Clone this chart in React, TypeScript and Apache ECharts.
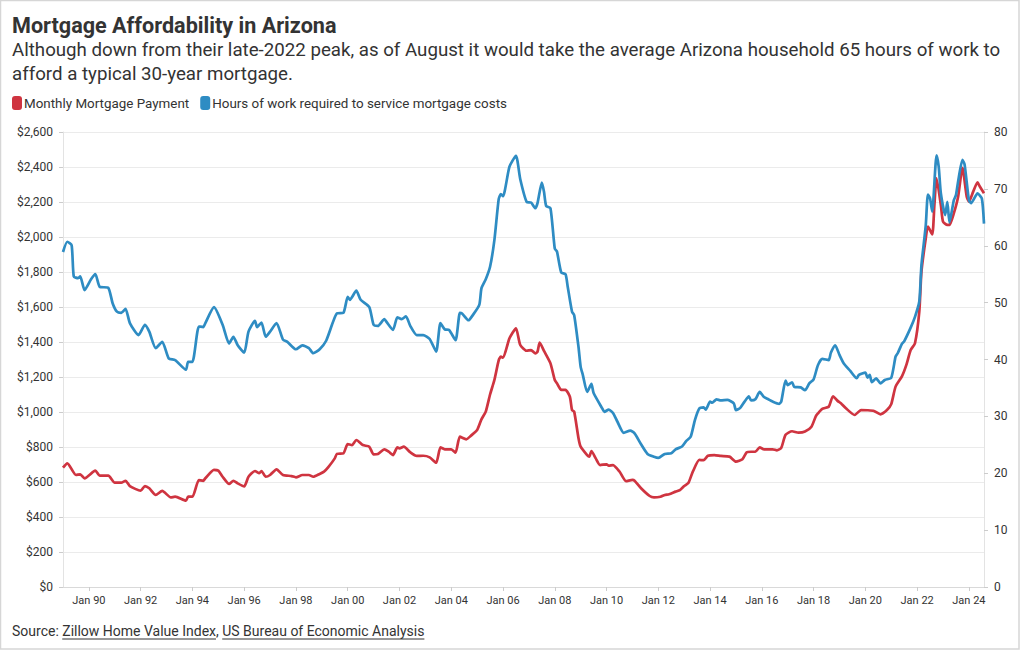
import React, { useEffect, useRef } from "react";
import * as echarts from "echarts";

// Monthly Mortgage Payment (USD)
const paymentDates = [
  "1989-01","1989-03","1989-07","1989-09","1989-11","1990-04","1990-06","1990-10","1991-01","1991-04",
  "1991-06","1991-08","1992-01","1992-03","1992-05","1992-08","1992-11","1993-03","1993-05","1993-10",
  "1993-11","1994-01","1994-04","1994-06","1994-07","1994-11","1995-01","1995-03","1995-06","1995-08",
  "1995-10","1996-01","1996-03","1996-06","1996-08","1996-09","1996-11","1997-01","1997-04","1997-07",
  "1997-11","1998-01","1998-04","1998-07","1998-09","1998-12","1999-02","1999-04","1999-07","1999-08",
  "1999-11","2000-01","2000-03","2000-05","2000-08","2000-11","2001-01","2001-03","2001-06","2001-08",
  "2001-10","2001-12","2002-01","2002-03","2002-06","2002-09","2002-12","2003-03","2003-06","2003-08",
  "2003-10","2004-01","2004-03","2004-05","2004-08","2004-10","2005-01","2005-03","2005-05","2005-07",
  "2005-09","2005-11","2005-12","2006-01","2006-04","2006-07","2006-09","2006-12","2007-02","2007-04",
  "2007-05","2007-06","2007-08","2007-11","2008-01","2008-02","2008-04","2008-06","2008-08","2008-09",
  "2008-10","2008-12","2009-01","2009-04","2009-05","2009-06","2009-08","2009-10","2010-01","2010-02",
  "2010-04","2010-07","2010-10","2011-01","2011-02","2011-05","2011-09","2011-11","2012-02","2012-04",
  "2012-06","2012-09","2012-11","2013-01","2013-03","2013-05","2013-08","2013-10","2013-12","2014-03",
  "2014-06","2014-10","2015-01","2015-04","2015-06","2015-08","2015-10","2015-12","2016-02","2016-06",
  "2016-08","2016-10","2016-12","2017-03","2017-06","2017-09","2017-12","2018-02","2018-03","2018-05",
  "2018-08","2018-10","2018-12","2019-02","2019-04","2019-08","2019-11","2020-02","2020-05","2020-08",
  "2020-11","2021-01","2021-03","2021-06","2021-08","2021-10","2021-12","2022-02","2022-03","2022-05",
  "2022-06","2022-08","2022-09","2022-10","2022-12","2023-01","2023-03","2023-04","2023-06","2023-08",
  "2023-10","2023-12","2024-01","2024-03","2024-05","2024-06","2024-08"
];
const paymentValues = [
  682,707,640,644,621,665,636,636,596,596,
  607,577,550,577,564,526,549,512,516,493,
  516,516,611,607,621,669,665,630,589,607,
  592,575,630,663,650,663,630,640,672,640,
  634,627,640,640,630,646,659,685,735,761,
  764,817,811,840,811,802,758,760,787,773,
  754,798,792,802,770,749,750,741,710,798,
  787,787,768,859,844,863,897,958,1002,1100,
  1183,1295,1316,1310,1421,1478,1383,1350,1354,1335,
  1345,1396,1349,1278,1183,1164,1126,1126,1087,1011,
  1002,850,802,754,745,777,735,697,701,693,
  697,660,605,612,607,564,520,512,516,526,
  530,545,554,577,596,659,726,725,750,754,
  749,745,716,730,770,773,773,798,787,787,
  781,795,870,890,882,888,916,975,992,1018,
  1030,1090,1065,1046,1021,983,1011,1010,1006,987,
  1011,1045,1145,1205,1269,1354,1393,1573,1802,1992,
  2059,2015,2183,2335,2183,2088,2069,2069,2135,2230,
  2395,2230,2202,2259,2312,2290,2250
];

// Hours of work required to service mortgage costs
const hoursDates = [
  "1989-01","1989-03","1989-05","1989-06","1989-08","1989-09","1989-11","1990-02","1990-04","1990-06",
  "1990-10","1990-12","1991-02","1991-04","1991-06","1991-08","1991-12","1992-03","1992-05","1992-08",
  "1992-11","1993-02","1993-05","1993-10","1993-11","1994-01","1994-04","1994-06","1994-07","1994-11",
  "1995-03","1995-06","1995-08","1995-10","1996-01","1996-03","1996-06","1996-07","1996-09","1996-11",
  "1997-01","1997-04","1997-07","1997-09","1998-01","1998-04","1998-07","1998-09","1998-12","1999-03",
  "1999-06","1999-08","1999-11","2000-01","2000-02","2000-05","2000-07","2000-11","2001-01","2001-03",
  "2001-06","2001-07","2001-10","2001-12","2002-02","2002-04","2002-06","2002-09","2002-12","2003-03",
  "2003-06","2003-08","2003-10","2003-12","2004-03","2004-05","2004-06","2004-09","2004-11","2005-02",
  "2005-03","2005-05","2005-07","2005-09","2005-11","2005-12","2006-01","2006-04","2006-07","2006-09",
  "2006-12","2007-02","2007-04","2007-05","2007-07","2007-08","2007-09","2007-11","2008-01","2008-02",
  "2008-04","2008-06","2008-07","2008-09","2008-10","2008-12","2009-01","2009-02","2009-04","2009-06",
  "2009-07","2009-11","2009-12","2010-02","2010-04","2010-06","2010-09","2010-12","2011-02","2011-05",
  "2011-08","2011-11","2012-01","2012-04","2012-07","2012-09","2012-12","2013-02","2013-04","2013-06",
  "2013-08","2013-10","2013-11","2014-01","2014-02","2014-04","2014-06","2014-09","2014-12","2015-01",
  "2015-03","2015-05","2015-07","2015-08","2015-10","2015-12","2016-02","2016-04","2016-06","2016-09",
  "2016-10","2016-12","2017-01","2017-03","2017-04","2017-07","2017-09","2017-11","2018-01","2018-03",
  "2018-05","2018-08","2018-09","2018-11","2019-01","2019-03","2019-06","2019-09","2019-10","2020-01",
  "2020-02","2020-03","2020-04","2020-06","2020-08","2020-10","2021-01","2021-03","2021-04","2021-06",
  "2021-07","2021-10","2021-12","2022-02","2022-03","2022-05","2022-06","2022-07","2022-08","2022-10",
  "2022-11","2022-12","2023-02","2023-03","2023-04","2023-06","2023-07","2023-08","2023-10","2023-11",
  "2024-01","2024-02","2024-05","2024-07","2024-08"
];
const hoursValues = [
  58.9,60.7,60.1,54.6,54.3,54.6,52.2,54.1,55.0,52.8,
  52.6,49.9,48.4,48.2,48.9,46.4,44.3,46.1,44.9,42.0,
  43.1,40.2,39.9,38.2,39.6,39.6,45.8,45.7,46.4,49.2,
  46.1,42.8,44.0,42.5,41.2,44.9,46.8,45.7,46.5,44.0,
  44.9,46.4,43.5,43.1,41.8,42.5,42.0,41.1,41.8,43.3,
  46.4,48.1,48.2,51.0,50.5,52.1,50.5,49.2,46.1,45.9,
  47.1,46.6,45.2,47.4,47.1,47.6,45.9,44.3,44.3,43.6,
  41.4,46.4,45.3,45.2,43.4,48.2,48.1,46.9,47.8,49.6,
  52.5,54.1,56.3,61.0,68.2,69.1,68.7,73.9,75.8,71.7,
  67.7,67.6,66.6,67.5,71.1,69.5,67.0,66.6,59.5,59.0,
  55.3,55.0,52.8,48.4,47.8,42.2,38.7,37.3,34.3,35.7,
  34.1,31.4,30.8,31.2,30.6,29.1,27.1,27.5,27.0,25.1,
  23.4,22.9,22.7,23.4,23.5,24.2,24.7,25.7,26.4,29.4,
  31.4,31.6,31.2,32.6,32.4,33.0,32.8,32.9,32.3,31.1,
  31.5,32.6,33.5,32.8,33.0,34.3,33.4,33.0,32.6,32.2,
  32.6,36.3,35.5,36.0,35.2,35.1,34.6,35.8,36.5,39.0,
  40.1,39.9,41.2,42.5,40.8,39.3,38.0,36.7,37.3,37.7,
  36.8,37.3,36.0,36.7,35.8,36.4,36.8,40.5,41.1,42.8,
  43.2,45.6,47.5,50.2,56.6,63.6,69.0,68.3,66.0,75.9,
  73.9,69.2,65.4,67.7,64.1,68.0,68.9,71.3,75.1,74.3,
  68.0,67.5,69.2,68.3,63.9
];

const xTickDates = [
  "1990-01","1992-01","1994-01","1996-01","1998-01","2000-01","2002-01","2004-01","2006-01",
  "2008-01","2010-01","2012-01","2014-01","2016-01","2018-01","2020-01","2022-01","2024-01"
];
const xTickLabels = [
  "Jan 90","Jan 92","Jan 94","Jan 96","Jan 98","Jan 00","Jan 02","Jan 04","Jan 06",
  "Jan 08","Jan 10","Jan 12","Jan 14","Jan 16","Jan 18","Jan 20","Jan 22","Jan 24"
];
const xStart = "1989-01";
const xEnd = "2024-08";

const titleText = "Mortgage Affordability in Arizona";
const subtitleLines = [
  "Although down from their late-2022 peak, as of August it would take the average Arizona household 65 hours of work to",
  "afford a typical 30-year mortgage."
];
const legendNames = ["Monthly Mortgage Payment", "Hours of work required to service mortgage costs"];
const sourceParts = ["Source: ", "Zillow Home Value Index", ", ", "US Bureau of Economic Analysis"];

const RED = "#cf3440";
const BLUE = "#2e8cc3";
const FONT = "Roboto";

function monthIndex(d: string): number {
  const [y, m] = d.split("-").map(Number);
  const [y0, m0] = xStart.split("-").map(Number);
  return (y - y0) * 12 + (m - m0);
}

function measure(text: string, font: string): number {
  const c = document.createElement("canvas").getContext("2d");
  if (!c) return text.length * 7;
  c.font = font;
  return c.measureText(text).width;
}

export default function App() {
  const ref = useRef<HTMLDivElement>(null);
  useEffect(() => {
    document.body.style.margin = "0";
    if (!ref.current) return;
    const chart = echarts.init(ref.current, undefined, { renderer: "svg" });

    const tickValues = xTickDates.map(monthIndex);
    const labelMap: Record<number, string> = {};
    tickValues.forEach((v, i) => (labelMap[v] = xTickLabels[i]));

    const paymentData = paymentDates.map((d, i) => [monthIndex(d), paymentValues[i]]);
    const hoursData = hoursDates.map((d, i) => [monthIndex(d), hoursValues[i]]);

    // Source line with underlined links
    const srcFont = `14px ${FONT}`;
    const srcY = 631;
    let sx = 12;
    const srcEls: any[] = [];
    sourceParts.forEach((p, i) => {
      const w = measure(p, srcFont);
      srcEls.push({
        type: "text",
        x: sx,
        y: srcY,
        style: { text: p, font: srcFont, fill: "#333", verticalAlign: "middle", align: "left" },
      });
      if (i === 1 || i === 3) {
        srcEls.push({
          type: "line",
          shape: { x1: sx, y1: srcY + 8, x2: sx + w, y2: srcY + 8 },
          style: { stroke: "#333", lineWidth: 1 },
        });
      }
      sx += w;
    });

    const legendFont = `13.4px ${FONT}`;
    const leg1W = measure(legendNames[0], legendFont);
    const icon2X = 24 + leg1W + 11;

    chart.setOption({
      animation: false,
      backgroundColor: "#ffffff",
      textStyle: { fontFamily: FONT },
      grid: { left: 63, right: 36, top: 132, bottom: 63, containLabel: false },
      xAxis: {
        type: "value",
        min: monthIndex(xStart),
        max: monthIndex(xEnd),
        axisLine: { show: true, lineStyle: { color: "#d9d9d9", width: 1 } },
        axisTick: { show: true, customValues: tickValues, length: 4, lineStyle: { color: "#cccccc" } },
        axisLabel: {
          customValues: tickValues,
          formatter: (v: number) => labelMap[v] ?? "",
          color: "#333",
          fontSize: 11,
          fontFamily: FONT,
          margin: 8,
        },
        splitLine: { show: false },
      },
      yAxis: [
        {
          type: "value",
          min: 0,
          max: 2600,
          interval: 200,
          position: "left",
          axisLine: { show: true, lineStyle: { color: "#e3e3e3" } },
          axisTick: { show: true, length: 4, lineStyle: { color: "#cccccc" } },
          axisLabel: {
            formatter: (v: number) => "$" + v.toLocaleString("en-US"),
            color: "#333",
            fontSize: 12,
            fontFamily: FONT,
            margin: 10,
          },
          splitLine: { show: true, lineStyle: { color: "#ebebeb", width: 1 } },
        },
        {
          type: "value",
          min: 0,
          max: 80,
          interval: 10,
          position: "right",
          axisLine: { show: true, lineStyle: { color: "#e3e3e3" } },
          axisTick: { show: true, length: 4, lineStyle: { color: "#cccccc" } },
          axisLabel: { color: "#333", fontSize: 12, fontFamily: FONT, margin: 10 },
          splitLine: { show: false },
        },
      ],
      series: [
        {
          name: legendNames[0],
          type: "line",
          yAxisIndex: 0,
          data: paymentData,
          showSymbol: false,
          smooth: 0.2,
          lineStyle: { color: RED, width: 2.7 },
          itemStyle: { color: RED },
          z: 2,
        },
        {
          name: legendNames[1],
          type: "line",
          yAxisIndex: 1,
          data: hoursData,
          showSymbol: false,
          smooth: 0.2,
          lineStyle: { color: BLUE, width: 2.7 },
          itemStyle: { color: BLUE },
          z: 3,
        },
      ],
      graphic: [
        {
          type: "rect",
          shape: { x: 0.5, y: 0.5, width: 1018.5, height: 648.5 },
          style: { fill: "none", stroke: "#d6d6d6", lineWidth: 1.5 },
          silent: true,
        },
        {
          type: "text",
          x: 12,
          y: 25,
          style: { text: titleText, font: `bold 21.6px ${FONT}`, fill: "#333", verticalAlign: "middle" },
        },
        {
          type: "text",
          x: 12,
          y: 50,
          style: { text: subtitleLines[0], font: `18.7px ${FONT}`, fill: "#333", verticalAlign: "middle" },
        },
        {
          type: "text",
          x: 12,
          y: 74,
          style: { text: subtitleLines[1], font: `18.7px ${FONT}`, fill: "#333", verticalAlign: "middle" },
        },
        {
          type: "rect",
          shape: { x: 12, y: 96, width: 10, height: 14, r: 3 },
          style: { fill: RED },
        },
        {
          type: "text",
          x: 24,
          y: 103,
          style: { text: legendNames[0], font: legendFont, fill: "#333", verticalAlign: "middle" },
        },
        {
          type: "rect",
          shape: { x: icon2X, y: 96, width: 10, height: 14, r: 3 },
          style: { fill: BLUE },
        },
        {
          type: "text",
          x: icon2X + 12,
          y: 103,
          style: { text: legendNames[1], font: legendFont, fill: "#333", verticalAlign: "middle" },
        },
        ...srcEls,
      ],
    });
    return () => chart.dispose();
  }, []);
  return <div ref={ref} style={{ width: 1020, height: 650 }} />;
}
